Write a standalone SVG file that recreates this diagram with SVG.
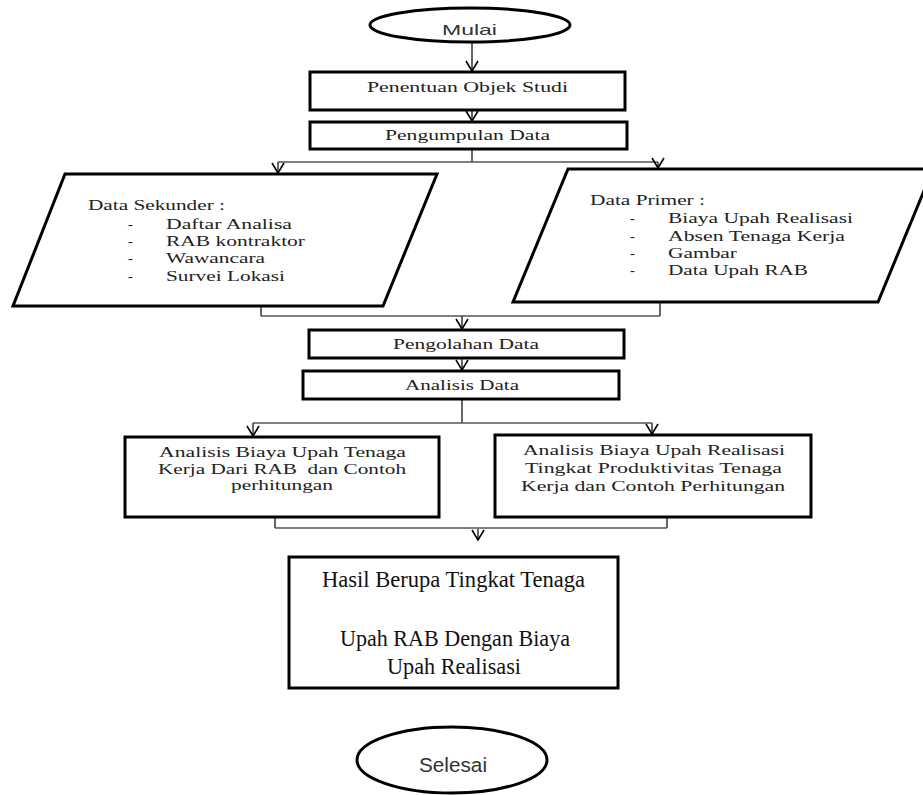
<svg xmlns="http://www.w3.org/2000/svg" width="923" height="795" viewBox="0 0 923 795">
<style>
.box{fill:#fff;stroke:#000;stroke-width:3}
.t{font-family:"Liberation Serif","Times New Roman",serif;font-size:14.5px;fill:#222}
.tb{font-family:"Liberation Serif","Times New Roman",serif;font-size:15.5px;fill:#222}
.th{font-family:"Liberation Serif","Times New Roman",serif;font-size:23.5px;fill:#111}
.s{font-family:"Liberation Sans","Noto Sans",Arial,sans-serif;fill:#333}
.c{fill:none;stroke:#333;stroke-width:1.5}
.h{fill:none;stroke:#555;stroke-width:1.5}
</style>
<defs>
<marker id="arr" viewBox="-1 -8 12 16" refX="10" refY="0" markerWidth="12" markerHeight="16" markerUnits="userSpaceOnUse" orient="auto">
<path d="M0,-6 L10,0 L0,6" fill="none" stroke="#000" stroke-width="1.6"/>
</marker>
</defs>
<rect width="923" height="795" fill="#fff"/>

<g id="connectors">
<line class="c" x1="472" y1="42" x2="472" y2="71" marker-end="url(#arr)"/>
<line class="c" x1="472" y1="110" x2="472" y2="121" marker-end="url(#arr)"/>
<line class="c" x1="472" y1="149" x2="472" y2="162"/>
<line class="h" x1="278" y1="162" x2="658" y2="162"/>
<line class="c" x1="278" y1="162" x2="278" y2="173" marker-end="url(#arr)"/>
<line class="c" x1="658" y1="162" x2="658" y2="168" marker-end="url(#arr)"/>
<line class="c" x1="261" y1="306" x2="261" y2="316"/>
<line class="c" x1="660" y1="302" x2="660" y2="316"/>
<line class="h" x1="261" y1="316" x2="660" y2="316"/>
<line class="c" x1="462" y1="316" x2="462" y2="329" marker-end="url(#arr)"/>
<line class="c" x1="462" y1="358" x2="462" y2="370" marker-end="url(#arr)"/>
<line class="c" x1="462" y1="399" x2="462" y2="423"/>
<line class="h" x1="253" y1="423" x2="652" y2="423"/>
<line class="c" x1="253" y1="423" x2="253" y2="436" marker-end="url(#arr)"/>
<line class="c" x1="652" y1="423" x2="652" y2="434" marker-end="url(#arr)"/>
<line class="c" x1="275" y1="517" x2="275" y2="528"/>
<line class="c" x1="667" y1="517" x2="667" y2="528"/>
<line class="h" x1="275" y1="528" x2="667" y2="528"/>
<line class="c" x1="478" y1="529" x2="478" y2="540" marker-end="url(#arr)"/>
</g>

<g id="mulai">
<ellipse class="box" cx="470" cy="25" rx="100" ry="17"/>
<text class="s" x="442" y="35" font-size="15" textLength="55" lengthAdjust="spacingAndGlyphs">Mulai</text>
</g>

<g id="penentuan">
<rect class="box" x="310" y="72" width="315" height="38"/>
<text class="tb" x="367" y="92" textLength="201" lengthAdjust="spacingAndGlyphs">Penentuan Objek Studi</text>
</g>

<g id="pengumpulan">
<rect class="box" x="310" y="122" width="317" height="27"/>
<text class="tb" x="385" y="140" textLength="165" lengthAdjust="spacingAndGlyphs">Pengumpulan Data</text>
</g>

<g id="sekunder">
<polygon class="box" points="65,174 437,174 383,306 13,306"/>
<text class="t" x="88" y="210" textLength="137" lengthAdjust="spacingAndGlyphs">Data Sekunder :</text>
<text class="t" x="128" y="229">-</text>
<text class="t" x="166" y="229" textLength="126" lengthAdjust="spacingAndGlyphs">Daftar Analisa</text>
<text class="t" x="128" y="246">-</text>
<text class="t" x="166" y="246" textLength="139" lengthAdjust="spacingAndGlyphs">RAB kontraktor</text>
<text class="t" x="128" y="263">-</text>
<text class="t" x="166" y="263" textLength="99" lengthAdjust="spacingAndGlyphs">Wawancara</text>
<text class="t" x="128" y="281">-</text>
<text class="t" x="166" y="281" textLength="119" lengthAdjust="spacingAndGlyphs">Survei Lokasi</text>
</g>

<g id="primer">
<polygon class="box" points="568,169 933,169 878,302 513,302"/>
<text class="t" x="590" y="205" textLength="115" lengthAdjust="spacingAndGlyphs">Data Primer :</text>
<text class="t" x="630" y="223">-</text>
<text class="t" x="668" y="223" textLength="185" lengthAdjust="spacingAndGlyphs">Biaya Upah Realisasi</text>
<text class="t" x="630" y="241">-</text>
<text class="t" x="668" y="241" textLength="177" lengthAdjust="spacingAndGlyphs">Absen Tenaga Kerja</text>
<text class="t" x="630" y="258">-</text>
<text class="t" x="668" y="258" textLength="69" lengthAdjust="spacingAndGlyphs">Gambar</text>
<text class="t" x="630" y="275">-</text>
<text class="t" x="668" y="275" textLength="140" lengthAdjust="spacingAndGlyphs">Data Upah RAB</text>
</g>

<g id="pengolahan">
<rect class="box" x="309" y="330" width="315" height="28"/>
<text class="tb" x="393" y="349" textLength="146" lengthAdjust="spacingAndGlyphs">Pengolahan Data</text>
</g>

<g id="analisis">
<rect class="box" x="303" y="371" width="316" height="28" stroke-width="3.5"/>
<text class="tb" x="405" y="390" textLength="114" lengthAdjust="spacingAndGlyphs">Analisis Data</text>
</g>

<g id="analisis-rab">
<rect class="box" x="125" y="437" width="314" height="80"/>
<text class="t" x="159" y="457" textLength="247" lengthAdjust="spacingAndGlyphs">Analisis Biaya Upah Tenaga</text>
<text class="t" x="158" y="474" textLength="248" lengthAdjust="spacingAndGlyphs">Kerja Dari RAB &#160;dan Contoh</text>
<text class="t" x="231" y="490" textLength="102" lengthAdjust="spacingAndGlyphs">perhitungan</text>
</g>

<g id="analisis-realisasi">
<rect class="box" x="495" y="435" width="316" height="82"/>
<text class="t" x="523" y="455" textLength="262" lengthAdjust="spacingAndGlyphs">Analisis Biaya Upah Realisasi</text>
<text class="t" x="525" y="473" textLength="257" lengthAdjust="spacingAndGlyphs">Tingkat Produktivitas Tenaga</text>
<text class="t" x="521" y="491" textLength="264" lengthAdjust="spacingAndGlyphs">Kerja dan Contoh Perhitungan</text>
</g>

<g id="hasil">
<rect class="box" x="289" y="557" width="329" height="131"/>
<text class="th" x="322" y="587" textLength="263" lengthAdjust="spacingAndGlyphs">Hasil Berupa Tingkat Tenaga</text>
<text class="th" x="340" y="646" textLength="230" lengthAdjust="spacingAndGlyphs">Upah RAB Dengan Biaya</text>
<text class="th" x="387" y="674" textLength="134" lengthAdjust="spacingAndGlyphs">Upah Realisasi</text>
</g>

<g id="selesai">
<ellipse class="box" cx="452" cy="760" rx="95" ry="33"/>
<text class="s" x="419" y="772" font-size="20" textLength="68" lengthAdjust="spacingAndGlyphs">Selesai</text>
</g>
</svg>
